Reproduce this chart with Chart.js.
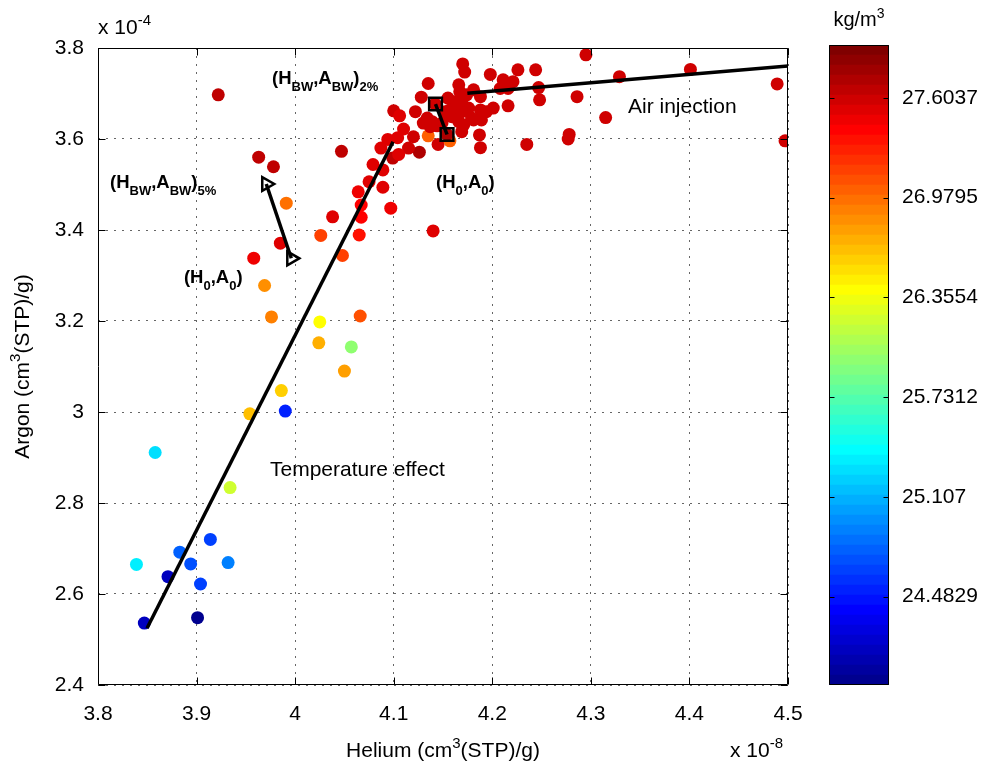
<!DOCTYPE html>
<html lang="en">
<head>
    <meta charset="UTF-8">
    <title>Helium / Argon</title>
    <style>
        html, body { margin: 0; padding: 0; background: #fff; }
        #wrap { position: relative; width: 983px; height: 773px; }
        #main { position: absolute; left: 0; top: 0; }
        #cbar { position: absolute; left: 820px; top: 0; }
    </style>
</head>
<body>
<div id="wrap">
    <canvas id="main" width="820" height="773"></canvas>
    <canvas id="cbar" width="163" height="773"></canvas>
</div>
<script src="https://cdn.jsdelivr.net/npm/chart.js@4.4.0/dist/chart.umd.min.js"></script>
<script>
    var FONT = '"Liberation Sans", Arial, Helvetica, sans-serif';

    // helium (x 1e-8 cm3(STP)/g), argon (x 1e-4 cm3(STP)/g), density (kg/m3)
    var heliumX = [
        3.847, 3.901, 3.871, 3.904, 3.883, 3.894, 3.932, 3.839, 3.858, 3.914,
        3.990, 3.934, 3.954, 3.986, 4.025, 4.024, 4.057, 4.050, 4.066, 3.976,
        3.969, 3.958, 3.985, 3.991, 3.963, 3.978, 3.922, 4.026, 4.038, 4.048,
        4.047, 4.065, 4.067, 4.067, 4.064, 4.075, 4.089, 4.097, 4.079, 4.089,
        4.087, 4.094, 4.099, 4.140,
        4.100, 4.170, 4.172, 4.135, 4.128, 4.106, 4.122, 4.110, 4.104, 4.120,
        4.135, 4.145, 4.126, 4.115, 4.105, 4.157, 4.169, 4.166, 4.159, 4.162,
        4.167, 4.174, 4.130, 4.139, 4.152, 4.176, 4.198, 4.226, 4.244, 4.211,
        4.221, 4.208, 4.216, 4.247, 4.248, 4.216, 4.181, 4.188, 4.169, 4.201,
        4.194, 4.188, 4.181, 4.189, 4.169, 4.187, 4.188, 4.235, 4.295, 4.329,
        4.401, 4.489, 4.286, 4.315, 4.278, 4.277, 4.497,
        4.155, 4.166, 4.149, 4.137, 4.134, 4.157, 4.171, 4.179, 4.144, 4.164,
        4.142, 4.154
    ];
    var argonY = [
        2.536, 2.548, 2.638, 2.622, 2.692, 2.666, 2.669, 2.665, 2.911, 2.720,
        3.002, 2.834, 2.996, 3.047, 3.198, 3.152, 3.143, 3.090, 3.211, 3.209,
        3.278, 3.338, 3.371, 3.459, 3.560, 3.539, 3.697, 3.388, 3.429, 3.344,
        3.573, 3.389, 3.428, 3.455, 3.484, 3.506, 3.494, 3.448, 3.544, 3.532,
        3.580, 3.599, 3.558, 3.398,
        3.662, 3.765, 3.747, 3.722, 3.692, 3.651, 3.660, 3.622, 3.603, 3.605,
        3.607, 3.588, 3.571, 3.580, 3.566, 3.596, 3.616, 3.638, 3.649, 3.682,
        3.704, 3.697, 3.635, 3.638, 3.660, 3.668, 3.742, 3.752, 3.752, 3.730,
        3.726, 3.711, 3.711, 3.713, 3.686, 3.673, 3.708, 3.693, 3.679, 3.668,
        3.660, 3.664, 3.642, 3.642, 3.660, 3.609, 3.581, 3.588, 3.785, 3.737,
        3.753, 3.721, 3.693, 3.647, 3.610, 3.600, 3.596,
        3.690, 3.719, 3.635, 3.627, 3.646, 3.664, 3.631, 3.646, 3.629, 3.679,
        3.677, 3.610
    ];
    var densityC = [
        24.15, 23.99, 24.18, 24.62, 24.80, 24.70, 24.93, 25.36, 25.30, 24.64,
        24.55, 26.21, 26.65, 26.59, 26.42, 26.71, 25.96, 26.75, 27.12, 26.88,
        26.86, 27.45, 27.50, 26.94, 27.65, 27.66, 27.65, 27.15, 27.52, 27.18,
        27.68, 27.36, 27.38, 27.42, 27.48, 27.50, 27.50, 27.47, 27.52, 27.52,
        27.52, 27.55, 27.65, 27.55,
        27.59, 27.59, 27.62, 27.59, 27.59, 27.52, 27.59, 27.55, 27.55, 27.59,
        27.05, 27.59, 27.70, 27.59, 27.55, 27.00, 27.59, 27.59, 27.59, 27.59,
        27.59, 27.59, 27.59, 27.59, 27.59, 27.59, 27.59, 27.59, 27.59, 27.59,
        27.59, 27.59, 27.59, 27.59, 27.59, 27.59, 27.59, 27.59, 27.59, 27.59,
        27.59, 27.59, 27.59, 27.59, 27.59, 27.59, 27.59, 27.59, 27.59, 27.59,
        27.59, 27.59, 27.59, 27.59, 27.59, 27.59, 27.59,
        27.59, 27.59, 27.59, 27.59, 27.59, 27.59, 27.59, 27.59, 27.59, 27.59,
        27.59, 27.70
    ];

    // fitted trends
    var tempLineX = [3.8497, 4.0993];
    var tempLineY = [2.5246, 3.5941];
    var airLineX = [4.1747, 4.5];
    var airLineY = [3.7004, 3.7604];

    // background water vs. initial values
    var bw5X = [3.9707, 3.9961];
    var bw5Y = [3.5011, 3.3378];
    var bw2X = [4.1424, 4.1541];
    var bw2Y = [3.6769, 3.6099];

    var xTicks = [3.8, 3.9, 4.0, 4.1, 4.2, 4.3, 4.4, 4.5];
    var xTickLabels = ['3.8', '3.9', '4', '4.1', '4.2', '4.3', '4.4', '4.5'];
    var yTicks = [2.4, 2.6, 2.8, 3.0, 3.2, 3.4, 3.6, 3.8];
    var yTickLabels = ['2.4', '2.6', '2.8', '3', '3.2', '3.4', '3.6', '3.8'];

    var cMin = 23.93;
    var cMax = 27.935;
    var cbarTicks = [24.4829, 25.107, 25.7312, 26.3554, 26.9795, 27.6037];
    var cbarTickLabels = ['24.4829', '25.107', '25.7312', '26.3554', '26.9795', '27.6037'];

    var notes = [
        {x: 4.3377, y: 3.6571, size: 21, parts: [['Air injection']]},
        {x: 3.9745, y: 2.8593, size: 21, parts: [['Temperature effect']]},
        {x: 3.9765, y: 3.7209, size: 18.5, bold: true, parts: [['(H'], ['BW', 'sub'], [',A'], ['BW', 'sub'], [')'], ['2%', 'sub']]},
        {x: 4.1429, y: 3.4923, size: 18.5, bold: true, parts: [['(H'], ['0', 'sub'], [',A'], ['0', 'sub'], [')']]},
        {x: 3.8122, y: 3.4923, size: 18.5, bold: true, parts: [['(H'], ['BW', 'sub'], [',A'], ['BW', 'sub'], [')'], ['5%', 'sub']]},
        {x: 3.8872, y: 3.2835, size: 18.5, bold: true, parts: [['(H'], ['0', 'sub'], [',A'], ['0', 'sub'], [')']]}
    ];

    // MATLAB jet(64), row k = 1..64
    function jet(k) {
        var x = k / 64;
        function c(v) { return Math.round(255 * Math.max(0, Math.min(1, v))); }
        return 'rgb(' + c(Math.min(4 * x - 1.5, 4.5 - 4 * x)) + ',' +
            c(Math.min(4 * x - 0.5, 3.5 - 4 * x)) + ',' +
            c(Math.min(4 * x + 0.5, 2.5 - 4 * x)) + ')';
    }

    function colorFor(v) {
        var k = Math.floor((v - cMin) / (cMax - cMin) * 64) + 1;
        return jet(Math.max(1, Math.min(64, k)));
    }

    function pairs(xs, ys) {
        return xs.map(function (v, i) { return {x: v, y: ys[i]}; });
    }

    // text with sub/superscripts
    function drawRich(ctx, parts, x, y, size, bold, align) {
        var weight = bold ? 'bold ' : '';
        var small = Math.round(size * 0.72);
        function fontFor(p) { return weight + (p[1] ? small : size) + 'px ' + FONT; }
        var width = 0;
        parts.forEach(function (p) {
            ctx.font = fontFor(p);
            width += ctx.measureText(p[0]).width;
        });
        var cx = align === 'center' ? x - width / 2 : x;
        ctx.textAlign = 'left';
        ctx.textBaseline = 'alphabetic';
        ctx.fillStyle = '#000';
        parts.forEach(function (p) {
            ctx.font = fontFor(p);
            var dy = p[1] === 'sub' ? size * 0.38 : (p[1] === 'sup' ? -size * 0.42 : 0);
            ctx.fillText(p[0], cx, y + dy);
            cx += ctx.measureText(p[0]).width;
        });
    }

    var axisFrame = {
        id: 'axisFrame',
        afterDatasetsDraw: function (chart) {
            var ctx = chart.ctx, a = chart.chartArea;
            var xs = chart.scales.x, ys = chart.scales.y;
            var l = Math.round(a.left) + 0.5, r = Math.round(a.right) - 0.5;
            var t = Math.round(a.top) + 0.5, b = Math.round(a.bottom) - 0.5;
            ctx.save();
            ctx.strokeStyle = '#000';
            ctx.lineWidth = 1;
            ctx.beginPath();
            ctx.rect(l, t, r - l, b - t);
            xTicks.forEach(function (v) {
                var px = Math.round(xs.getPixelForValue(v)) + 0.5;
                ctx.moveTo(px, b); ctx.lineTo(px, b - 7);
                ctx.moveTo(px, t); ctx.lineTo(px, t + 7);
            });
            yTicks.forEach(function (v) {
                var py = Math.round(ys.getPixelForValue(v)) + 0.5;
                ctx.moveTo(l, py); ctx.lineTo(l + 7, py);
                ctx.moveTo(r, py); ctx.lineTo(r - 7, py);
            });
            ctx.stroke();

            notes.forEach(function (n) {
                drawRich(ctx, n.parts, xs.getPixelForValue(n.x), ys.getPixelForValue(n.y), n.size, n.bold, 'left');
            });

            // axis titles and exponents
            var midX = (a.left + a.right) / 2;
            var midY = (a.top + a.bottom) / 2;
            drawRich(ctx, [['Helium (cm'], ['3', 'sup'], ['(STP)/g)']], midX, 757, 21, false, 'center');
            drawRich(ctx, [['x 10'], ['-8', 'sup']], 730, 757, 21, false, 'left');
            drawRich(ctx, [['x 10'], ['-4', 'sup']], a.left, 34, 21, false, 'left');
            ctx.save();
            ctx.translate(29, midY);
            ctx.rotate(-Math.PI / 2);
            drawRich(ctx, [['Argon (cm'], ['3', 'sup'], ['(STP)/g)']], 0, 0, 21, false, 'center');
            ctx.restore();
            ctx.restore();
        }
    };

    var cbarFrame = {
        id: 'cbarFrame',
        afterDraw: function (chart) {
            var ctx = chart.ctx, a = chart.chartArea, ys = chart.scales.y;
            var l = Math.round(a.left) + 0.5, r = Math.round(a.right) - 0.5;
            var t = Math.round(a.top) + 0.5, b = Math.round(a.bottom) - 0.5;
            ctx.save();
            ctx.strokeStyle = '#000';
            ctx.lineWidth = 1;
            ctx.beginPath();
            ctx.rect(l, t, r - l, b - t);
            cbarTicks.forEach(function (v) {
                var py = Math.round(ys.getPixelForValue(v)) + 0.5;
                ctx.moveTo(l, py); ctx.lineTo(l + 5, py);
                ctx.moveTo(r, py); ctx.lineTo(r - 5, py);
            });
            ctx.stroke();
            drawRich(ctx, [['kg/m'], ['3', 'sup']], (a.left + a.right) / 2, 26, 20, false, 'center');
            ctx.restore();
        }
    };

    Chart.defaults.font.family = FONT;
    Chart.defaults.color = '#000';

    var tickFont = {family: FONT, size: 21};
    var dotted = {display: false, dash: [2, 6]};
    var gridStyle = {color: 'rgba(0,0,0,0.6)', lineWidth: 1, drawTicks: false, tickLength: 0};

    new Chart(document.getElementById('main'), {
        type: 'scatter',
        data: {
            datasets: [
                {
                    data: pairs(bw5X, bw5Y),
                    showLine: true,
                    borderColor: '#000',
                    borderWidth: 3.5,
                    pointStyle: 'triangle',
                    pointRotation: 90,
                    pointRadius: 8,
                    pointBorderWidth: 2.5,
                    pointBorderColor: '#000',
                    pointBackgroundColor: 'rgba(255,255,255,0)',
                    order: 0
                },
                {
                    data: pairs(bw2X, bw2Y),
                    showLine: true,
                    borderColor: '#000',
                    borderWidth: 3.5,
                    pointStyle: 'rect',
                    pointRadius: 9,
                    pointBorderWidth: 2.5,
                    pointBorderColor: '#000',
                    pointBackgroundColor: 'rgba(255,255,255,0)',
                    order: 0
                },
                {
                    data: pairs(tempLineX, tempLineY),
                    showLine: true,
                    borderColor: '#000',
                    borderWidth: 3.5,
                    pointRadius: 0,
                    order: 1
                },
                {
                    data: pairs(airLineX, airLineY),
                    showLine: true,
                    borderColor: '#000',
                    borderWidth: 3.5,
                    pointRadius: 0,
                    order: 1
                },
                {
                    data: pairs(heliumX, argonY),
                    pointRadius: 6.5,
                    pointBorderWidth: 0,
                    pointBackgroundColor: densityC.map(colorFor),
                    order: 10
                }
            ]
        },
        options: {
            responsive: false,
            animation: false,
            events: [],
            layout: {padding: {top: 48, right: 32, left: 0, bottom: 0}},
            plugins: {legend: {display: false}, tooltip: {enabled: false}},
            scales: {
                x: {
                    type: 'linear',
                    min: 3.8,
                    max: 4.5,
                    grid: gridStyle,
                    border: dotted,
                    afterBuildTicks: function (s) { s.ticks = xTicks.map(function (v) { return {value: v}; }); },
                    afterFit: function (s) { s.height = 88; },
                    ticks: {
                        padding: 17,
                        color: '#000',
                        font: tickFont,
                        maxRotation: 0,
                        callback: function (v, i) { return xTickLabels[i]; }
                    }
                },
                y: {
                    type: 'linear',
                    min: 2.4,
                    max: 3.8,
                    grid: gridStyle,
                    border: dotted,
                    afterBuildTicks: function (s) { s.ticks = yTicks.map(function (v) { return {value: v}; }); },
                    afterFit: function (s) { s.width = 98; },
                    ticks: {
                        padding: 14,
                        color: '#000',
                        font: tickFont,
                        callback: function (v, i) { return yTickLabels[i]; }
                    }
                }
            }
        },
        plugins: [axisFrame]
    });

    // colour bar: 64 stacked bands of the jet map
    var bandSets = [];
    for (var k = 1; k <= 64; k++) {
        bandSets.push({
            data: [[cMin + (k - 1) * (cMax - cMin) / 64, cMin + k * (cMax - cMin) / 64]],
            backgroundColor: jet(k),
            borderWidth: 0,
            grouped: false,
            barPercentage: 1,
            categoryPercentage: 1
        });
    }

    new Chart(document.getElementById('cbar'), {
        type: 'bar',
        data: {labels: [''], datasets: bandSets},
        options: {
            responsive: false,
            animation: false,
            events: [],
            layout: {padding: {left: 9, top: 45, bottom: 88, right: 0}},
            plugins: {legend: {display: false}, tooltip: {enabled: false}},
            scales: {
                x: {display: false},
                y: {
                    position: 'right',
                    min: cMin,
                    max: cMax,
                    grid: {display: false, drawTicks: false, tickLength: 0},
                    border: {display: false},
                    afterBuildTicks: function (s) { s.ticks = cbarTicks.map(function (v) { return {value: v}; }); },
                    afterFit: function (s) { s.width = 94; },
                    ticks: {
                        padding: 13,
                        color: '#000',
                        font: tickFont,
                        callback: function (v, i) { return cbarTickLabels[i]; }
                    }
                }
            }
        },
        plugins: [cbarFrame]
    });
</script>
</body>
</html>
